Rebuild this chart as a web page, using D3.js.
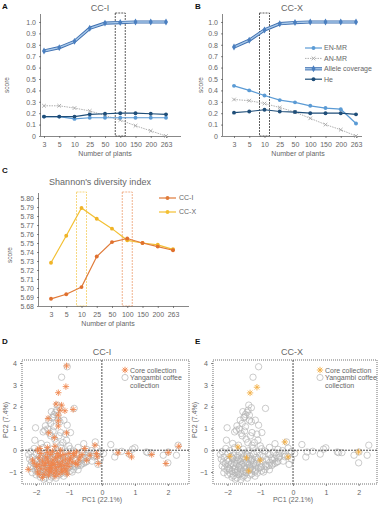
<!DOCTYPE html>
<html>
<head>
<meta charset="utf-8">
<script src="https://cdn.jsdelivr.net/npm/d3@7"></script>
<style>
  body { margin: 0; background: #fff; }
  text { font-family: "Liberation Sans", Arial, sans-serif; fill: #666; }
</style>
</head>
<body>
<div id="chart"></div>
<script>
// ---- data ----
var plants = ["3", "5", "10", "25", "50", "100", "150", "200", "263"];

// panel A (CC-I)
var ccI_allele = [0.745, 0.775, 0.83, 0.945, 0.99, 0.995, 1.0, 1.0, 1.0];
var ccI_enmr   = [0.17, 0.17, 0.15, 0.16, 0.16, 0.16, 0.16, 0.16, 0.16];
var ccI_anmr   = [0.265, 0.265, 0.245, 0.22, 0.18, 0.14, 0.09, 0.045, 0.0];
var ccI_he     = [0.17, 0.17, 0.17, 0.19, 0.195, 0.2, 0.2, 0.195, 0.19];

// panel B (CC-X)
var ccX_allele = [0.78, 0.84, 0.93, 0.985, 0.995, 1.0, 1.0, 1.0, 1.0];
var ccX_enmr   = [0.44, 0.40, 0.355, 0.315, 0.295, 0.265, 0.245, 0.235, 0.11];
var ccX_anmr   = [0.32, 0.31, 0.285, 0.25, 0.21, 0.155, 0.10, 0.055, 0.0];
var ccX_he     = [0.205, 0.215, 0.23, 0.215, 0.21, 0.20, 0.20, 0.20, 0.19];

// panel C (Shannon)
var shannon_ccI = [5.688, 5.693, 5.701, 5.735, 5.751, 5.755, 5.750, 5.746, 5.742];
var shannon_ccX = [5.728, 5.758, 5.789, 5.777, 5.766, 5.753, 5.750, 5.748, 5.743];

var scoreTicks = [0, 0.1, 0.2, 0.3, 0.4, 0.5, 0.6, 0.7, 0.8, 0.9, 1.0];
var shannonTicks = [5.68, 5.69, 5.70, 5.71, 5.72, 5.73, 5.74, 5.75, 5.76, 5.77, 5.78, 5.79, 5.80];
var pc1Ticks = [-2, -1, 0, 1, 2];
var pc2Ticks = [-1, 0, 1, 2, 3, 4];

// PCA: Yangambi coffee collection (PC1, PC2)
var yangambi = [
  [-1.05,3.83],[-1.22,3.35],[-1.35,2.07],[-1.27,1.95],[-1.40,1.74],[-1.45,1.64],[-1.33,1.61],[-1.50,1.49],
  [-1.61,1.38],[-1.55,1.23],[-1.71,1.12],[-1.64,0.97],[-1.45,1.08],[-1.48,0.88],[-1.25,0.81],[-1.10,0.74],
  [-0.95,0.81],[-1.30,0.66],[-1.55,0.66],[-1.43,0.51],[-2.01,1.03],[-2.03,0.46],[-1.84,0.31],[-1.66,0.23],
  [-1.38,0.35],[-1.18,0.35],[-0.84,1.92],[-1.05,1.15],[-1.15,1.38],[-1.37,1.84],[-1.33,1.38],[-1.78,0.84],
  [-1.25,0.23],[-1.53,1.77],[-1.47,1.54],[-1.27,1.31],[-1.73,0.92],[-1.58,0.77],[-1.07,0.46],[-1.0,0.2],
  [-0.2,0.38],[-0.55,0.3],
  [0.27,0.26],[0.43,-0.08],[0.39,-0.31],[0.93,0.05],[0.83,-0.18],[1.0,0.11],[1.39,-0.11],[1.49,-0.11],
  [1.35,-0.08],[2.0,-0.58],[2.26,-0.23],[2.31,0.23],[1.86,-0.23],[2.01,-0.08],[0.05,-0.15],[0.6,-0.05],
  [-0.7,-0.2],[-0.62,-0.45],[-0.55,-0.6],[-0.45,-0.35],[-0.4,-0.15],[-0.3,-0.5],[-0.25,-0.3],[-0.15,0.1],
  [-0.12,-0.65],[-0.05,-0.4],[-0.8,-0.75],[-0.72,-0.9],[-0.9,-1.0],[-0.65,-0.7],[-0.5,-0.55],
  [-2.05,0.08],[-1.78,0.12],[-1.52,0.05],[-1.22,0.1],[-0.96,0.07],[-0.72,0.13],[-0.46,0.04],
  [-2.16,-0.06],[-1.92,-0.02],[-1.63,-0.08],[-1.36,-0.03],[-1.1,-0.07],[-0.86,-0.04],[-0.6,-0.09],[-0.32,-0.02],[-0.05,-0.06],
  [-2.22,-0.2],[-1.99,-0.16],[-1.81,-0.22],[-1.56,-0.15],[-1.41,-0.21],[-1.2,-0.17],[-1.01,-0.23],[-0.76,-0.18],[-0.51,-0.24],[-0.27,-0.19],
  [-2.1,-0.32],[-1.89,-0.28],[-1.71,-0.34],[-1.5,-0.3],[-1.31,-0.27],[-1.13,-0.33],[-0.91,-0.29],[-0.66,-0.35],[-0.41,-0.31],[-0.16,-0.28],
  [-2.19,-0.4],[-2.01,-0.45],[-1.83,-0.39],[-1.66,-0.44],[-1.46,-0.41],[-1.26,-0.46],[-1.06,-0.4],[-0.81,-0.43],[-0.56,-0.38],
  [-2.13,-0.53],[-1.96,-0.5],[-1.79,-0.56],[-1.61,-0.51],[-1.43,-0.55],[-1.29,-0.49],[-1.11,-0.54],[-0.93,-0.5],[-0.71,-0.56],[-0.46,-0.52],
  [-2.06,-0.62],[-1.91,-0.66],[-1.73,-0.61],[-1.56,-0.65],[-1.39,-0.6],[-1.21,-0.66],[-1.01,-0.62],[-0.83,-0.67],[-0.61,-0.63],
  [-2.16,-0.72],[-1.99,-0.76],[-1.81,-0.71],[-1.66,-0.77],[-1.49,-0.73],[-1.31,-0.78],[-1.13,-0.72],[-0.96,-0.76],[-0.73,-0.7],
  [-2.09,-0.83],[-1.93,-0.87],[-1.76,-0.82],[-1.59,-0.86],[-1.41,-0.81],[-1.23,-0.87],[-1.06,-0.83],[-0.86,-0.88],
  [-2.01,-0.93],[-1.86,-0.97],[-1.69,-0.92],[-1.51,-0.98],[-1.34,-0.94],[-1.16,-0.99],[-0.96,-0.95],
  [-2.11,-1.03],[-1.91,-1.07],[-1.76,-1.02],[-1.61,-1.08],[-1.43,-1.04],[-1.26,-1.09],[-1.09,-1.05],
  [-1.99,-1.13],[-1.81,-1.17],[-1.66,-1.12],[-1.49,-1.18],[-1.31,-1.14],[-1.16,-1.19],
  [-1.86,-1.24],[-1.71,-1.27],[-1.53,-1.23],[-1.39,-1.28],[-1.76,-1.33],[-1.59,-1.35],
  [-1.85,-0.36],[-1.58,-0.38],[-1.35,-0.37],[-1.7,-0.46],[-1.52,-0.58],[-1.33,-0.68],[-1.62,-0.7],[-1.45,-0.9],
  [-1.7,-1.0],[-1.3,-0.85],[-1.88,-0.6],[-1.2,-0.58],[-1.4,-0.2],[-1.68,-0.25],[-1.95,-0.85],[-1.55,-1.05],
  [-1.15,-0.9],[-1.0,-0.8],[-1.78,-0.9],[-1.25,-0.4]
];

// PCA: core collection CC-I (100 plants)
var coreCCI = [
  [-1.07,3.87],[-1.09,2.92],[-1.32,2.64],[-1.39,2.12],[-1.22,2.07],[-1.27,1.84],[-1.12,1.81],[-0.87,1.87],
  [-1.32,1.61],[-1.63,1.46],[-1.32,1.35],[-1.32,1.11],[-1.07,0.80],[-1.61,0.80],[-1.44,0.58],[-1.88,0.08],[-1.25,0.0],
  [0.49,-0.12],[0.80,-0.15],[0.90,-0.31],[1.51,-0.2],[1.94,-0.61],[2.01,-0.11],[2.33,0.18],
  [-0.11,-0.61],[-0.21,0.23],[-0.16,-0.15],[-0.14,-0.3],[-0.52,0.08],[-0.46,-0.46],[-0.36,-0.23],[-0.77,-0.08],
  [-0.67,-0.31],[-0.86,-0.15],[-1.42,0.18],[-1.65,0.12],[-1.95,0.0],
  [-2.23,-0.88],[-1.9,-1.1],[-1.58,-1.0],[-1.85,-0.15],[-1.7,-0.3],[-1.55,-0.2],[-1.4,-0.35],[-1.25,-0.25],
  [-1.1,-0.4],[-0.95,-0.35],[-1.8,-0.5],[-1.62,-0.55],[-1.48,-0.45],[-1.35,-0.55],[-1.2,-0.5],[-1.05,-0.6],
  [-0.9,-0.55],[-1.75,-0.7],[-1.6,-0.8],[-1.45,-0.65],[-1.3,-0.75],[-1.15,-0.7],[-1.0,-0.75],[-1.85,-0.85],
  [-1.7,-0.9],[-1.52,-0.85],[-1.38,-0.95],[-1.22,-0.9],[-1.08,-0.95],[-1.95,-1.0],[-1.75,-1.1],[-1.45,-1.05],
  [-1.3,-1.1],[-1.62,-1.15],[-1.5,-0.6],[-1.65,-0.4],[-1.9,-0.35],[-2.05,-0.6],[-1.98,-0.75],[-1.55,-0.7],
  [-1.4,-0.8],[-1.25,-0.65],[-1.12,-0.85],[-0.98,-0.45],[-0.8,-0.6],[-0.85,-0.25],[-1.33,-0.3],[-1.58,-0.95],
  [-1.72,-0.6],[-1.42,-1.2],[-1.8,-1.25],[-1.2,-1.0],[-1.65,-0.1],[-1.5,-0.05],[-1.0,-0.15],[-0.7,-0.45],
  [-0.6,-0.2],[-2.1,-0.45],[-1.35,-0.15],[-1.15,-0.2],[-0.75,-0.65],[-1.9,-0.65],[-1.05,-1.1]
];

// PCA: core collection CC-X (10 plants)
var coreCCX = [
  [-1.10,2.89],[-1.31,2.63],[-0.25,0.38],[-0.15,-0.31],[-1.68,0.15],
  [-1.93,-0.28],[-1.42,-0.35],[-1.0,-0.46],[-1.35,-0.95],[2.0,-0.08]
];

// ---- drawing ----
var W = 378, H = 505;
var svg = d3.select("#chart").append("svg").attr("width", W).attr("height", H);

var colEN = "#5b9bd5", colAN = "#a6a6a6", colAllele = "#3e6fb0", colAlleleIn = "#a9c9e9", colHe = "#1f4e79";
var colCCI = "#e07b39", colCCX = "#f3c033";
var fs = 7;

function letter(t, x, y) {
  svg.append("text").attr("x", x).attr("y", y).text(t)
    .style("font-size", "8px").style("font-weight", "bold").style("fill", "#111");
}
function label(t, x, y, size, rot) {
  var el = svg.append("text").attr("text-anchor", "middle").style("font-size", (size || fs) + "px").text(t);
  if (rot) el.attr("transform", "translate(" + x + "," + y + ") rotate(-90)");
  else el.attr("x", x).attr("y", y);
  return el;
}

// star (8-ray asterisk) path
function starPath(r) {
  var p = "";
  for (var i = 0; i < 4; i++) {
    var a = i * Math.PI / 4;
    p += "M" + (-r * Math.cos(a)) + "," + (-r * Math.sin(a)) + "L" + (r * Math.cos(a)) + "," + (r * Math.sin(a));
  }
  return p;
}
function xPath(r) {
  return "M" + (-r) + "," + (-r) + "L" + r + "," + r + "M" + (-r) + "," + r + "L" + r + "," + (-r);
}

// line panel with categorical x
function linePanel(opt) {
  var g = svg.append("g");
  var x = d3.scalePoint().domain(plants).range(opt.xr);
  var y = d3.scaleLinear().domain(opt.yd).range(opt.yr);

  // dashed highlight boxes
  opt.boxes.forEach(function(b) {
    g.append("rect")
      .attr("x", x(b.cat) - 5).attr("width", 10)
      .attr("y", y(opt.yd[1]) - 1).attr("height", y(opt.yd[0]) - y(opt.yd[1]) + 1)
      .attr("fill", "none").attr("stroke", b.color).attr("stroke-width", 0.8)
      .attr("stroke-dasharray", "2,1");
  });

  var yAxis = d3.axisLeft(y).tickValues(opt.yticks).tickSize(2).tickFormat(opt.yfmt);
  var ya = g.append("g").attr("transform", "translate(" + opt.ax + ",0)").call(yAxis);
  ya.select(".domain").attr("d", "M-0.5," + y(opt.yd[0]) + "V" + y(opt.yd[1]));
  var xAxis = d3.axisBottom(x).tickSize(2);
  var xa = g.append("g").attr("transform", "translate(0," + y(opt.yd[0]) + ")").call(xAxis);
  xa.select(".domain").attr("d", "M" + opt.ax + ",0.5H" + opt.xend);
  [ya, xa].forEach(function(a) {
    a.selectAll("text").style("font-size", fs + "px").style("fill", "#666")
      .style("font-family", "Liberation Sans, Arial, sans-serif");
    a.selectAll("line,path").attr("stroke", "#555").attr("stroke-width", 0.7);
  });
  xa.selectAll("text").attr("dy", "0.9em");

  opt.series.forEach(function(s) {
    var line = d3.line().x(function(d, i) { return x(plants[i]); }).y(function(d) { return y(d); });
    if (s.type === "double") {
      g.append("path").datum(s.values).attr("d", line).attr("fill", "none")
        .attr("stroke", s.color).attr("stroke-width", 3.2);
      g.append("path").datum(s.values).attr("d", line).attr("fill", "none")
        .attr("stroke", s.inner).attr("stroke-width", 1.4);
    } else {
      g.append("path").datum(s.values).attr("d", line).attr("fill", "none")
        .attr("stroke", s.color).attr("stroke-width", s.width || 1.2)
        .attr("stroke-dasharray", s.dash || null);
    }
    var m = g.append("g").selectAll("path").data(s.values).enter().append("path")
      .attr("transform", function(d, i) { return "translate(" + x(plants[i]) + "," + y(d) + ")"; });
    if (s.marker === "x") m.attr("d", xPath(1.8)).attr("stroke", s.color).attr("stroke-width", 0.9).attr("fill", "none");
    else if (s.marker === "diamond") m.attr("d", d3.symbol(d3.symbolDiamond, 14)).attr("fill", s.mcolor || s.color);
    else m.attr("d", d3.symbol(d3.symbolCircle, 12)).attr("fill", s.mcolor || s.color);
  });
  return { x: x, y: y };
}

function scoreSeries(allele, enmr, anmr, he) {
  return [
    { values: anmr, color: colAN, dash: "1.5,1", width: 0.9, marker: "x" },
    { values: allele, type: "double", color: colAllele, inner: colAlleleIn, marker: "diamond", mcolor: "#4a7fc0" },
    { values: enmr, color: colEN, marker: "circle" },
    { values: he, color: colHe, marker: "circle" }
  ];
}

// Panel A
letter("A", 2, 9);
label("CC-I", 100, 11, 9);
linePanel({ xr: [44, 166], ax: 41, xend: 181, yd: [0, 1.07], yr: [136, 14], yticks: scoreTicks,
  yfmt: function(d) { return d === 0 ? "0" : d3.format(".1f")(d); },
  boxes: [{ cat: "100", color: "#333" }],
  series: scoreSeries(ccI_allele, ccI_enmr, ccI_anmr, ccI_he) });
label("score", 9, 85, 6.5, true);
label("Number of plants", 105, 156);

// Panel B
letter("B", 195, 9);
label("CC-X", 292, 11, 9);
linePanel({ xr: [234, 356], ax: 223, xend: 362, yd: [0, 1.07], yr: [136, 14], yticks: scoreTicks,
  yfmt: function(d) { return d === 0 ? "0" : d3.format(".1f")(d); },
  boxes: [{ cat: "10", color: "#333" }],
  series: scoreSeries(ccX_allele, ccX_enmr, ccX_anmr, ccX_he) });
label("score", 203, 85, 6.5, true);
label("Number of plants", 298, 156);

// Legend B
var legB = [
  { name: "EN-MR", color: colEN, marker: "circle" },
  { name: "AN-MR", color: colAN, marker: "x", dash: "1.5,1" },
  { name: "Allele coverage", color: colAllele, marker: "diamond", type: "double" },
  { name: "He", color: colHe, marker: "circle" }
];
legB.forEach(function(l, i) {
  var yy = 48 + i * 10.4;
  if (l.type === "double") {
    svg.append("line").attr("x1", 305).attr("x2", 322).attr("y1", yy).attr("y2", yy).attr("stroke", l.color).attr("stroke-width", 3.2);
    svg.append("line").attr("x1", 305).attr("x2", 322).attr("y1", yy).attr("y2", yy).attr("stroke", colAlleleIn).attr("stroke-width", 1.4);
  } else {
    svg.append("line").attr("x1", 305).attr("x2", 322).attr("y1", yy).attr("y2", yy)
      .attr("stroke", l.color).attr("stroke-width", l.dash ? 0.9 : 1.2).attr("stroke-dasharray", l.dash || null);
  }
  var mk = svg.append("path").attr("transform", "translate(313.5," + yy + ")");
  if (l.marker === "x") mk.attr("d", xPath(1.8)).attr("stroke", l.color).attr("stroke-width", 0.9);
  else if (l.marker === "diamond") mk.attr("d", d3.symbol(d3.symbolDiamond, 14)).attr("fill", "#4a7fc0");
  else mk.attr("d", d3.symbol(d3.symbolCircle, 12)).attr("fill", l.color);
  svg.append("text").attr("x", 324).attr("y", yy + 2.4).text(l.name).style("font-size", fs + "px");
});

// Panel C
letter("C", 2, 173);
label("Shannon's diversity index", 100, 185, 9);
linePanel({ xr: [51, 173], ax: 39, xend: 189, yd: [5.68, 5.8056], yr: [306, 193], yticks: shannonTicks,
  yfmt: d3.format(".2f"),
  boxes: [{ cat: "10", color: "#f5cf63" }, { cat: "100", color: "#eda070" }],
  series: [
    { values: shannon_ccX, color: colCCX, marker: "circle", mcolor: "#f0b428" },
    { values: shannon_ccI, color: colCCI, marker: "circle", mcolor: "#e0702e" }
  ] });
label("score", 12, 255, 6.5, true);
label("Number of plants", 108, 326);

[{ name: "CC-I", color: colCCI }, { name: "CC-X", color: colCCX }].forEach(function(l, i) {
  var yy = 198 + i * 14;
  svg.append("line").attr("x1", 159).attr("x2", 176).attr("y1", yy).attr("y2", yy).attr("stroke", l.color).attr("stroke-width", 1.2);
  svg.append("path").attr("transform", "translate(167.5," + yy + ")").attr("d", d3.symbol(d3.symbolCircle, 12)).attr("fill", l.color);
  svg.append("text").attr("x", 179).attr("y", yy + 2.4).text(l.name).style("font-size", fs + "px");
});

// PCA panels
function pcaPanel(opt) {
  var g = svg.append("g");
  var x = d3.scaleLinear().domain(opt.xd).range(opt.xr);
  var y = d3.scaleLinear().domain([-1.55, 4.14]).range([484, 360]);

  g.append("rect").attr("x", opt.xr[0]).attr("y", 360).attr("width", opt.xr[1] - opt.xr[0]).attr("height", 124)
    .attr("fill", "none").attr("stroke", "#333").attr("stroke-width", 0.7).attr("stroke-dasharray", "1,1");

  g.append("g").selectAll("circle").data(yangambi).enter().append("circle")
    .attr("cx", function(d) { return x(d[0]); }).attr("cy", function(d) { return y(d[1]); })
    .attr("r", 3.2).attr("fill", "none").attr("stroke", "#b5b5b5").attr("stroke-width", 0.7);

  g.append("line").attr("x1", x(0)).attr("x2", x(0)).attr("y1", 360).attr("y2", 484)
    .attr("stroke", "#222").attr("stroke-width", 0.8).attr("stroke-dasharray", "2,1");
  g.append("line").attr("x1", opt.xr[0]).attr("x2", opt.xr[1]).attr("y1", y(0)).attr("y2", y(0))
    .attr("stroke", "#222").attr("stroke-width", 0.8).attr("stroke-dasharray", "2,1");

  g.append("g").selectAll("path").data(opt.core).enter().append("path")
    .attr("transform", function(d) { return "translate(" + x(d[0]) + "," + y(d[1]) + ")"; })
    .attr("d", starPath(3.2)).attr("stroke", opt.starColor).attr("stroke-width", 0.85).attr("fill", "none");

  var xa = g.append("g").attr("transform", "translate(0,484)")
    .call(d3.axisBottom(x).tickValues(pc1Ticks).tickSize(2).tickFormat(d3.format("d")));
  var ya = g.append("g").attr("transform", "translate(" + opt.xr[0] + ",0)")
    .call(d3.axisLeft(y).tickValues(pc2Ticks).tickSize(2).tickFormat(d3.format("d")));
  [xa, ya].forEach(function(a) {
    a.select(".domain").remove();
    a.selectAll("text").style("font-size", fs + "px").style("fill", "#666")
      .style("font-family", "Liberation Sans, Arial, sans-serif");
    a.selectAll("line").attr("stroke", "#555").attr("stroke-width", 0.7);
  });
  xa.selectAll("text").attr("dy", "0.9em");

  // legend
  var lx = opt.legX;
  g.append("path").attr("transform", "translate(" + lx + ",370)").attr("d", starPath(3.2))
    .attr("stroke", opt.starColor).attr("stroke-width", 0.9);
  g.append("text").attr("x", lx + 5).attr("y", 372.5).text("Core collection").style("font-size", fs + "px");
  g.append("circle").attr("cx", lx).attr("cy", 377.5).attr("r", 3.1).attr("fill", "none")
    .attr("stroke", "#b3b3b3").attr("stroke-width", 0.7);
  g.append("text").attr("x", lx + 5).attr("y", 380).text("Yangambi coffee").style("font-size", fs + "px");
  g.append("text").attr("x", lx + 5).attr("y", 387.5).text("collection").style("font-size", fs + "px");
}

letter("D", 2, 344);
label("CC-I", 102, 355, 9);
pcaPanel({ xd: [-2.42, 2.64], xr: [22, 189], core: coreCCI, starColor: "#f0844a", legX: 125 });
label("PC1 (22.1%)", 102, 502);
label("PC2 (7.4%)", 8, 420, 7, true);

letter("E", 195, 344);
label("CC-X", 292, 355, 9);
pcaPanel({ xd: [-2.44, 2.56], xr: [213, 377], core: coreCCX, starColor: "#f2ad42", legX: 320 });
label("PC1 (22.1%)", 293, 502);
label("PC2 (7.4%)", 197, 420, 7, true);
</script>
</body>
</html>
